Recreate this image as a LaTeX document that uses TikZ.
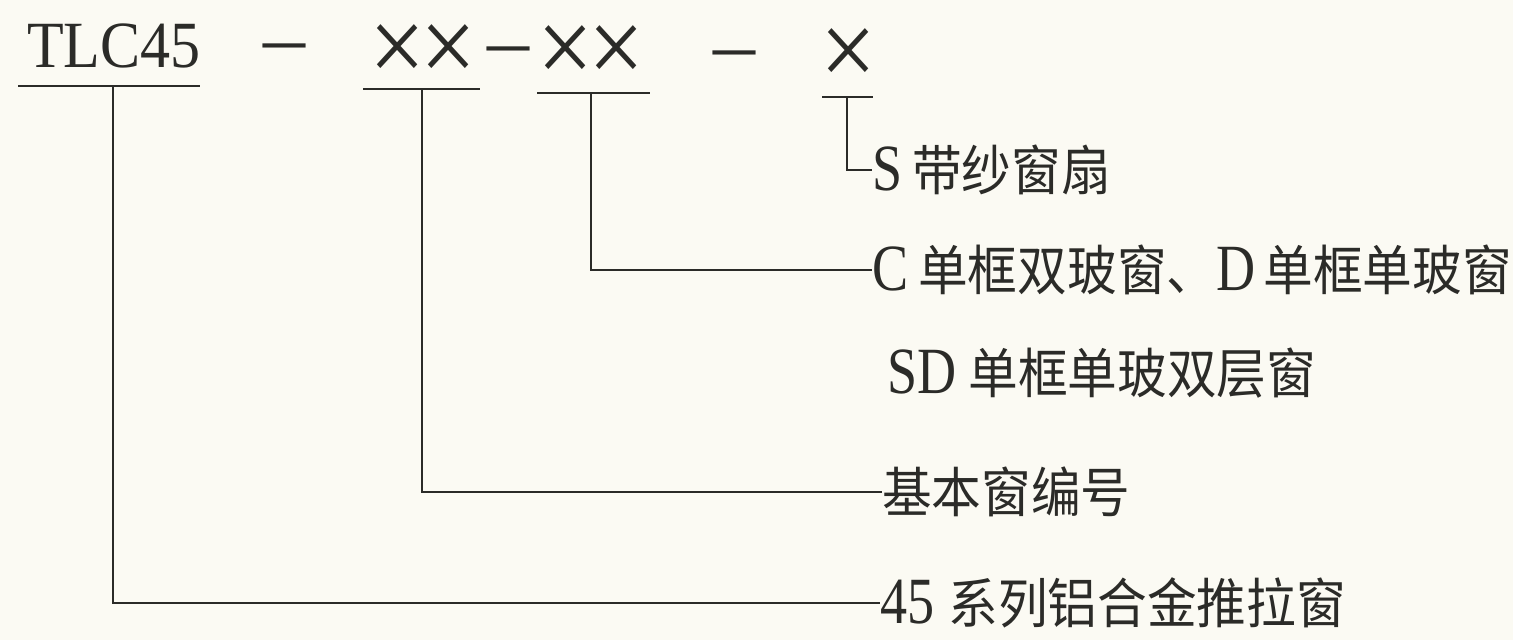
\documentclass[tikz,border=0pt]{standalone}
\usepackage{fontspec}
\setmainfont{Liberation Serif}[FakeStretch=0.82]
\newfontfamily\mycodefont{Liberation Serif}[FakeStretch=0.91]
\newfontfamily\myzhfont{Noto Sans CJK SC}[FakeStretch=0.92]
\newfontfamily\mysymfont{Liberation Serif}
\newcommand\mylat[1]{{\fontsize{66}{66}\selectfont #1}}
\newcommand\myzh[1]{{\myzhfont\fontsize{54}{54}\selectfont #1}}
\newcommand\mycross{\scalebox{0.92}[1]{×}}
\definecolor{ink}{HTML}{2B2B28}
\definecolor{paper}{HTML}{FBFAF3}
\tikzset{
  conn/.style={draw=ink, line width=2.8pt},
  codetext/.style={inner sep=0pt, text=ink, font=\mycodefont\fontsize{66}{66}\selectfont},
  crosstext/.style={inner sep=0pt, text=ink, font=\mysymfont\fontsize{108}{108}\selectfont},
  dashtext/.style={inner sep=0pt, text=ink, font=\mysymfont\fontsize{84}{84}\selectfont},
  labtext/.style={inner sep=0pt, anchor=west, text=ink},
}
\begin{document}
\begin{tikzpicture}[x=1pt,y=-1pt]
\fill[paper] (0,0) rectangle (1513,640);
\useasboundingbox (0,0) rectangle (1513,640);
% code line
\node[codetext, anchor=base west] (tlc) at (27,67) {TLC45};
\node[dashtext] (d1) at (284,55) {–};
\node[crosstext] (xx1) at (423,54) {\mycross\kern-6pt\mycross};
\node[dashtext] (d2) at (508,58) {–};
\node[crosstext] (xx2) at (591,55) {\mycross\kern-6pt\mycross};
\node[dashtext] (d3) at (734,62) {–};
\node[crosstext] (x3) at (849,58) {\mycross};
% underlines
\coordinate (u0a) at (18,86);  \coordinate (u0b) at (200,86);  \coordinate (u0) at (113,86);
\coordinate (u1a) at (363,89); \coordinate (u1b) at (480,89); \coordinate (u1) at (422,89);
\coordinate (u2a) at (537,93); \coordinate (u2b) at (650,93); \coordinate (u2) at (591,93);
\coordinate (u3a) at (822,97); \coordinate (u3b) at (873,97); \coordinate (u3) at (847,97);
\draw[conn] (u0a) -- (u0b);
\draw[conn] (u1a) -- (u1b);
\draw[conn] (u2a) -- (u2b);
\draw[conn] (u3a) -- (u3b);
% labels
\node[labtext] (ls) at (872,170) {\mylat{S}\hspace{10pt}\myzh{带纱窗扇}};
\node[labtext] (lc) at (872,270) {\mylat{C}\hspace{10pt}\myzh{单框双玻窗、}\mylat{D}\hspace{8pt}\myzh{单框单玻窗}};
\node[labtext] (lsd) at (887,373) {\mylat{SD}\hspace{12pt}\myzh{单框单玻双层窗}};
\node[labtext] (lb) at (882,492) {\myzh{基本窗编号}};
\node[labtext] (l45) at (880,603) {\mylat{45}\hspace{14pt}\myzh{系列铝合金推拉窗}};
% connectors
\draw[conn] (u3) |- (ls.west);
\draw[conn] (u2) |- (lc.west);
\draw[conn] (u1) |- (lb.west);
\draw[conn] (u0) |- (l45.west);
\end{tikzpicture}
\end{document}
